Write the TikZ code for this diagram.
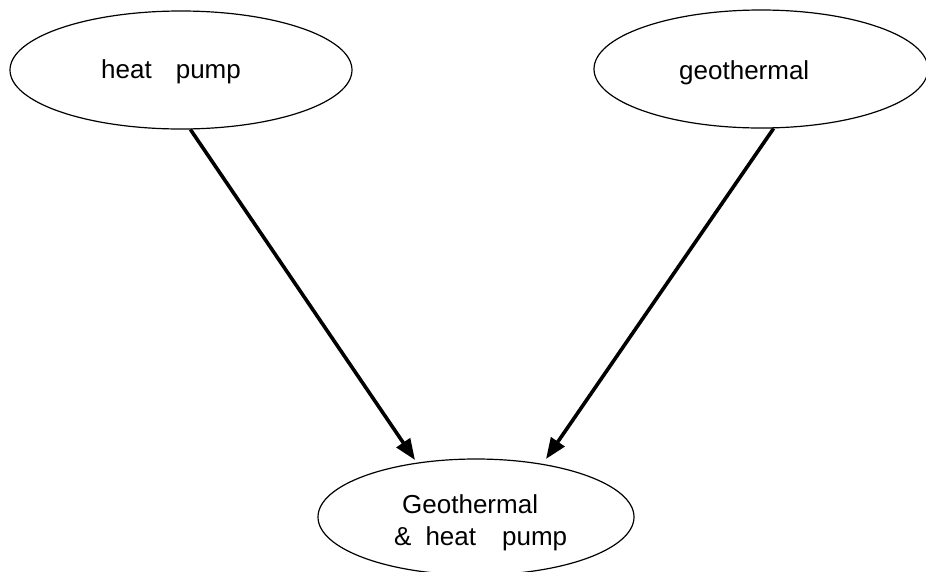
\documentclass[tikz,border=0pt]{standalone}
\usepackage{fontspec}
\setmainfont{Liberation Sans}
\usetikzlibrary{shapes.geometric,arrows.meta}
\begin{document}
\begin{tikzpicture}[x=1pt,y=-1pt,
  oval/.style={draw,ellipse,line width=1.2pt,inner sep=0pt},
  lbl/.style={inner sep=0pt,anchor=base west,font=\fontsize{26}{32}\selectfont},
  conn/.style={line width=3.6pt,-{Triangle[length=21pt,width=16pt]}}]
\clip (0,0) rectangle (926,571);
\useasboundingbox (0,0) rectangle (926,571);
\node[oval,minimum width=342pt,minimum height=118pt] (hp) at (181,70) {};
\node[oval,minimum width=334pt,minimum height=118pt] (geo) at (761,69) {};
\node[oval,minimum width=316pt,minimum height=116pt] (gh) at (476,517) {};
\node[lbl] (hpt) at (101,78) {heat\hspace{24pt}pump};
\node[lbl] (geot) at (679,79) {geothermal};
\node[lbl] (ght1) at (402,513) {Geothermal};
\node[lbl] (ght2) at (394,545) {\&\hspace{14pt}heat\hspace{26pt}pump};
\coordinate (t1) at (415,460);
\coordinate (t2) at (546,459);
\draw[conn] (hp.-81) -- (t1);
\draw[conn] (geo.-78) -- (t2);
\end{tikzpicture}
\end{document}
